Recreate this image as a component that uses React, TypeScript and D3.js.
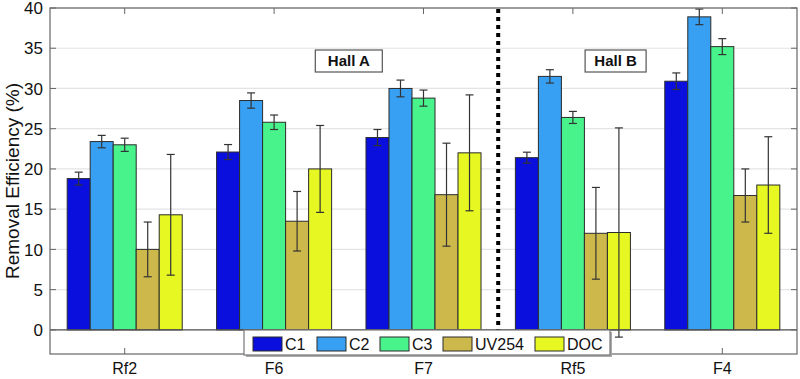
import React from "react";
import * as d3 from "d3";

const categories = ["Rf2", "F6", "F7", "Rf5", "F4"];
const seriesNames = ["C1", "C2", "C3", "UV254", "DOC"];
const seriesColors = ["#0a0fde", "#37a0f2", "#48f38c", "#cdb94b", "#e6f722"];
// values[series][category]
const c1Values = [18.8, 22.1, 23.9, 21.4, 30.9];
const c2Values = [23.4, 28.5, 30.0, 31.5, 38.9];
const c3Values = [23.0, 25.8, 28.8, 26.4, 35.2];
const uvValues = [10.0, 13.5, 16.8, 12.0, 16.7];
const docValues = [14.3, 20.0, 22.0, 12.1, 18.0];
const c1Err = [0.8, 0.93, 1.0, 0.68, 1.03];
const c2Err = [0.77, 0.95, 1.04, 0.83, 0.97];
const c3Err = [0.82, 0.9, 1.0, 0.75, 0.99];
const uvErr = [3.4, 3.7, 6.4, 5.7, 3.3];
const docErr = [7.5, 5.4, 7.2, 13.0, 6.0];
const yTicks = [0, 5, 10, 15, 20, 25, 30, 35, 40];
const hallLabels = ["Hall A", "Hall B"];

const values = [c1Values, c2Values, c3Values, uvValues, docValues];
const errors = [c1Err, c2Err, c3Err, uvErr, docErr];

const W = 800, H = 379;
const M = { left: 50, right: 797, top: 8, bottom: 354 };
const FONT = "'Liberation Sans', Arial, sans-serif";

export default function App() {
  const x = d3.scaleLinear().domain([-0.5, 4.5]).range([M.left, M.right]);
  const y = d3.scaleLinear().domain([-3, 40]).range([M.bottom, M.top]);
  const step = x(1) - x(0);
  const groupW = step * 0.77;
  const inner = d3.scaleBand<number>().domain(d3.range(5)).range([-groupW / 2, groupW / 2]).padding(0);
  const bw = inner.bandwidth();
  const sepX = x(2.5);

  return (
    <svg width={W} height={H} style={{ position: "absolute", left: 0, top: 0, background: "#fff" }}>
      <rect x={0} y={0} width={W} height={H} fill="#fff" />
      {/* grid */}
      {yTicks.map((t) => (
        <line key={"g" + t} x1={M.left} x2={M.right} y1={y(t)} y2={y(t)} stroke="#e2e4e6" strokeWidth={1.2} />
      ))}
      {/* bars */}
      {categories.map((c, ci) =>
        seriesNames.map((s, si) => {
          const v = values[si][ci];
          const bx = x(ci) + (inner(si) as number);
          return (
            <rect key={c + s} x={bx} y={y(v)} width={bw} height={y(0) - y(v)} fill={seriesColors[si]} stroke="#2b2b2b" strokeWidth={1} />
          );
        })
      )}
      {/* error bars */}
      {categories.map((c, ci) =>
        seriesNames.map((s, si) => {
          const v = values[si][ci];
          const e = errors[si][ci];
          const cx = x(ci) + (inner(si) as number) + bw / 2;
          return (
            <g key={"e" + c + s} stroke="#333" strokeWidth={1.2}>
              <line x1={cx} x2={cx} y1={y(v + e)} y2={y(v - e)} />
              <line x1={cx - 4} x2={cx + 4} y1={y(v + e)} y2={y(v + e)} />
              <line x1={cx - 4} x2={cx + 4} y1={y(v - e)} y2={y(v - e)} />
            </g>
          );
        })
      )}
      {/* zero line */}
      <line x1={M.left} x2={M.right} y1={y(0)} y2={y(0)} stroke="#555" strokeWidth={1.2} />
      {/* separator */}
      <line x1={sepX} x2={sepX} y1={M.top + 1} y2={M.bottom} stroke="#000" strokeWidth={4} strokeDasharray="4,4" />
      {/* axes box */}
      <rect x={M.left} y={M.top} width={M.right - M.left} height={M.bottom - M.top} fill="none" stroke="#666" strokeWidth={1.2} />
      {/* ticks */}
      {yTicks.map((t) => (
        <g key={"t" + t}>
          <line x1={M.left} x2={M.left + 6} y1={y(t)} y2={y(t)} stroke="#666" />
          <line x1={M.right} x2={M.right - 6} y1={y(t)} y2={y(t)} stroke="#666" />
          <text x={M.left - 7} y={y(t)} dy="0.36em" textAnchor="end" fontFamily={FONT} fontSize={17} fill="#111">{t}</text>
        </g>
      ))}
      {categories.map((c, ci) => (
        <g key={"xc" + c}>
          <line x1={x(ci)} x2={x(ci)} y1={M.top} y2={M.top + 6} stroke="#666" />
          <line x1={x(ci)} x2={x(ci)} y1={M.bottom} y2={M.bottom - 6} stroke="#666" />
          <text x={x(ci)} y={368} dy="0.36em" textAnchor="middle" fontFamily={FONT} fontSize={16} fill="#111">{c}</text>
        </g>
      ))}
      <text transform={`translate(12,${181}) rotate(-90)`} dy="0.36em" textAnchor="middle" fontFamily={FONT} fontSize={19} fill="#111">Removal Efficiency (%)</text>
      {/* hall labels */}
      {hallLabels.map((h, i) => {
        const cx = i === 0 ? (x(1) + x(2)) / 2 : (x(3) + x(4)) / 2 - 32;
        const bwid = i === 0 ? 67 : 61;
        return (
          <g key={h}>
            <rect x={cx - bwid / 2} y={50} width={bwid} height={22} fill="#fff" stroke="#555" strokeWidth={1.2} />
            <text x={cx} y={61} dy="0.36em" textAnchor="middle" fontFamily={FONT} fontSize={15} fontWeight="bold" fill="#111">{h}</text>
          </g>
        );
      })}
      {/* legend */}
      <g>
        <rect x={246} y={332} width={366} height={25} fill="#aaa" />
        <rect x={244} y={330} width={366} height={25} fill="#fff" stroke="#777" strokeWidth={1.2} />
        {seriesNames.map((s, si) => {
          const lx = [253, 317, 380, 443, 535][si];
          return (
            <g key={"l" + s}>
              <rect x={lx} y={337} width={29} height={14} fill={seriesColors[si]} stroke="#2b2b2b" strokeWidth={1} />
              <text x={lx + 32} y={344} dy="0.36em" fontFamily={FONT} fontSize={16} fill="#111">{s}</text>
            </g>
          );
        })}
      </g>
    </svg>
  );
}
